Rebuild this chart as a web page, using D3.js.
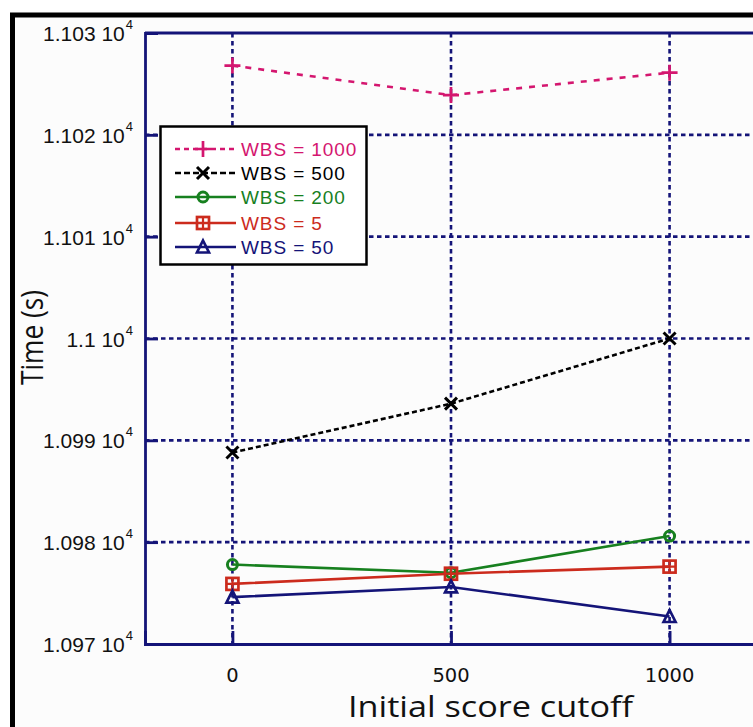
<!DOCTYPE html>
<html>
<head>
<meta charset="utf-8">
<script src="https://cdn.jsdelivr.net/npm/d3@7/dist/d3.min.js"></script>
<style>
  html, body { margin: 0; padding: 0; background: #ffffff; }
  svg { display: block; }
</style>
</head>
<body>
<script>
// Initial score cutoff values on the x axis
const cutoffs = [0, 500, 1000];
const xTicks = [0, 500, 1000];
// Y tick values (seconds) and their mantissa labels (x 10^4)
const yTicks = [10970, 10980, 10990, 11000, 11010, 11020, 11030];
const yTickLabels = ["1.097", "1.098", "1.099", "1.1", "1.101", "1.102", "1.103"];

// Run times per window bin size
const wbs1000 = [11026.8, 11023.9, 11026.1];
const wbs500  = [10988.8, 10993.6, 11000.0];
const wbs200  = [10977.8, 10977.0, 10980.6];
const wbs5    = [10975.9, 10976.9, 10977.6];
const wbs50   = [10974.6, 10975.6, 10972.7];

const seriesNames = ["WBS = 1000", "WBS = 500", "WBS = 200", "WBS = 5", "WBS = 50"];
const seriesValues = [wbs1000, wbs500, wbs200, wbs5, wbs50];
const seriesColors = ["#d4166f", "#000000", "#17801f", "#cc2b1d", "#141478"];
const seriesDash = ["6,7", "5,3", null, null, null];
const seriesMarker = ["plus", "cross", "circle", "boxplus", "triangle"];

const W = 753, H = 727;
const axisColor = "#141478";
const svg = d3.select("body").append("svg").attr("width", W).attr("height", H);

// outer frame
svg.append("rect").attr("x", 12.5).attr("y", 15).attr("width", W + 20).attr("height", H + 20)
  .attr("fill", "#fcfcfc").attr("stroke", "#000").attr("stroke-width", 5);

const plot = { left: 145, top: 33, bottom: 644 };
const x = d3.scaleLinear().domain([-200, 1200]).range([plot.left, plot.left + 612]);
const y = d3.scaleLinear().domain([10970, 11030]).range([plot.bottom, plot.top]);

const g = svg.append("g");

// dashed grid lines
g.selectAll(".vgrid").data(xTicks).enter().append("line")
  .attr("x1", d => x(d)).attr("x2", d => x(d)).attr("y1", plot.top).attr("y2", plot.bottom)
  .attr("stroke", axisColor).attr("stroke-width", 2.6).attr("stroke-dasharray", "4.5,3.5");
g.selectAll(".hgrid").data(yTicks.slice(1, -1)).enter().append("line")
  .attr("x1", plot.left).attr("x2", W + 10).attr("y1", d => y(d)).attr("y2", d => y(d))
  .attr("stroke", axisColor).attr("stroke-width", 2.6).attr("stroke-dasharray", "4.5,3.5");

// axes via d3 axis generators (ticks pointing inward)
const yAxis = d3.axisLeft(y).tickValues(yTicks).tickSize(-13).tickFormat("");
const xAxis = d3.axisBottom(x).tickValues(xTicks).tickSize(-13).tickFormat("");
const ya = g.append("g").attr("transform", `translate(${plot.left},0)`).call(yAxis);
const xa = g.append("g").attr("transform", `translate(0,${plot.bottom})`).call(xAxis);
[ya, xa].forEach(a => {
  a.selectAll("path.domain").attr("stroke", axisColor).attr("stroke-width", 2.8);
  a.selectAll(".tick line").attr("stroke", axisColor).attr("stroke-width", 2.8);
});
// top border of the plot box
g.append("line").attr("x1", plot.left).attr("x2", W + 10).attr("y1", plot.top).attr("y2", plot.top)
  .attr("stroke", axisColor).attr("stroke-width", 2.8);

// y tick labels: mantissa followed by "10" with superscript 4
yTicks.forEach((v, i) => {
  const t = svg.append("text").attr("x", 133).attr("y", y(v) + 8)
    .attr("text-anchor", "end").attr("font-family", "Liberation Sans, Arial, sans-serif")
    .attr("font-size", 21).attr("fill", "#111");
  t.append("tspan").text(yTickLabels[i] + " 10");
  t.append("tspan").attr("font-size", 13).attr("dy", -12).attr("dx", 1).text("4");
});

// x tick labels
xTicks.forEach(v => {
  svg.append("text").attr("x", x(v)).attr("y", 682)
    .attr("text-anchor", "middle").attr("font-family", "DejaVu Sans, sans-serif")
    .attr("font-size", 19.5).attr("fill", "#111").text(v);
});

// axis titles
svg.append("text").attr("x", 348).attr("y", 717)
  .attr("font-family", "Open Sans, sans-serif").attr("font-size", 30).attr("fill", "#111")
  .attr("textLength", 285).attr("lengthAdjust", "spacingAndGlyphs")
  .text("Initial score cutoff");
svg.append("text").attr("transform", "translate(43,385) rotate(-90)")
  .attr("font-family", "Open Sans, sans-serif").attr("font-size", 31).attr("fill", "#111")
  .attr("textLength", 95).attr("lengthAdjust", "spacingAndGlyphs")
  .text("Time (s)");

// marker drawing
function drawMarker(sel, type, color, cx, cy) {
  const m = sel.append("g").attr("transform", `translate(${cx},${cy})`)
    .attr("stroke", color).attr("stroke-width", 2.7).attr("fill", "none");
  if (type === "plus") {
    m.append("path").attr("d", "M-8,0H8M0,-8V8");
  } else if (type === "cross") {
    m.append("path").attr("d", "M-6,-6L6,6M-6,6L6,-6").attr("stroke-width", 3);
  } else if (type === "circle") {
    m.append("circle").attr("r", 5).attr("stroke-width", 3);
  } else if (type === "boxplus") {
    m.append("rect").attr("x", -6).attr("y", -6).attr("width", 12).attr("height", 12);
    m.append("path").attr("d", "M-6,0H6M0,-6V6").attr("stroke-width", 2.2);
  } else if (type === "triangle") {
    m.append("path").attr("d", "M0,-6.5L6,5.5L-6,5.5Z");
  }
}

// series lines and markers
const line = d3.line().x((d, i) => x(cutoffs[i])).y(d => y(d));
seriesValues.forEach((vals, s) => {
  const p = g.append("path").datum(vals).attr("d", line).attr("fill", "none")
    .attr("stroke", seriesColors[s]).attr("stroke-width", 2.6);
  if (seriesDash[s]) p.attr("stroke-dasharray", seriesDash[s]);
});
seriesValues.forEach((vals, s) => {
  vals.forEach((v, i) => drawMarker(g, seriesMarker[s], seriesColors[s], x(cutoffs[i]), y(v)));
});

// legend
const leg = svg.append("g");
leg.append("rect").attr("x", 160.5).attr("y", 126.5).attr("width", 206).attr("height", 138)
  .attr("fill", "#ffffff").attr("stroke", "#000").attr("stroke-width", 2.5);
const rowY = [149, 173, 197, 223, 247];
seriesNames.forEach((name, s) => {
  const ly = rowY[s];
  const l = leg.append("line").attr("x1", 175).attr("x2", 236).attr("y1", ly).attr("y2", ly)
    .attr("stroke", seriesColors[s]).attr("stroke-width", 2.6);
  if (seriesDash[s]) l.attr("stroke-dasharray", s === 0 ? "5,4" : "6,3");
  drawMarker(leg, seriesMarker[s], seriesColors[s], 203, ly);
  leg.append("text").attr("x", 241).attr("y", ly + 7)
    .attr("font-family", "Liberation Sans, Arial, sans-serif").attr("font-size", 19)
    .attr("letter-spacing", 0.9)
    .attr("fill", seriesColors[s]).text(name);
});
</script>
</body>
</html>
